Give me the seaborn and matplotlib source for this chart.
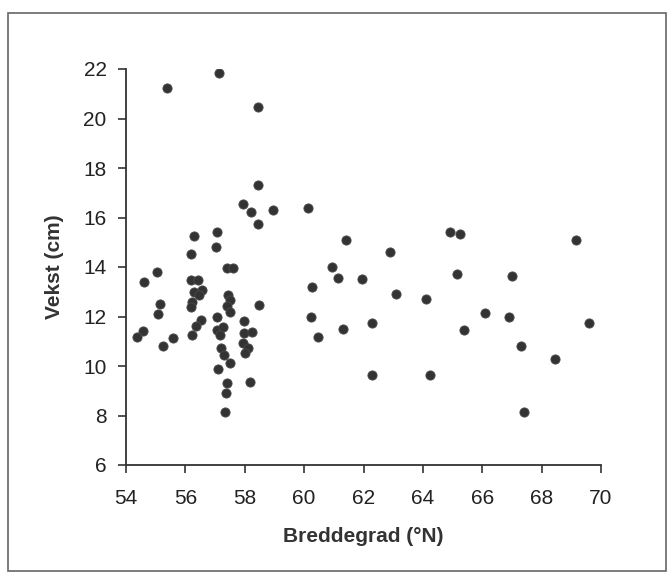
import matplotlib
matplotlib.use("Agg")
import matplotlib.pyplot as plt
import seaborn as sns
import pandas as pd
from matplotlib.patches import Rectangle

latitude = [55.37, 57.14, 58.45, 58.43, 57.93, 58.21, 58.96, 58.45, 60.12, 56.29,
            57.05, 57.03, 56.19, 55.03, 54.61, 57.39, 57.59, 56.18, 56.42, 56.29,
            56.56, 56.46, 56.21, 56.19, 57.44, 57.50, 57.39, 57.50, 58.48, 55.14,
            55.07, 57.05, 56.51, 56.36, 57.97, 57.05, 57.28, 57.16, 54.58, 54.38,
            56.21, 55.59, 57.97, 58.25, 55.24, 57.95, 58.10, 58.01, 57.20, 57.31,
            57.50, 57.09, 57.41, 58.18, 57.37, 57.34,
            61.41, 62.89, 64.91, 65.25, 60.93, 61.13, 61.94, 60.25, 65.15, 63.11,
            64.12, 60.23, 60.48, 61.32, 62.27, 62.30, 64.24,
            69.17, 66.99, 66.09, 66.91, 65.39, 69.59, 67.32, 68.44, 67.41]
growth = [21.22, 21.83, 20.48, 17.31, 16.53, 16.23, 16.30, 15.72, 16.40, 15.25,
          15.40, 14.82, 14.53, 13.81, 13.41, 13.95, 13.95, 13.47, 13.47, 13.00,
          13.07, 12.87, 12.60, 12.40, 12.87, 12.67, 12.42, 12.19, 12.46, 12.49,
          12.10, 11.97, 11.86, 11.62, 11.83, 11.45, 11.59, 11.25, 11.43, 11.18,
          11.25, 11.14, 11.35, 11.39, 10.81, 10.94, 10.74, 10.51, 10.74, 10.44,
          10.11, 9.87, 9.30, 9.34, 8.90, 8.15,
          15.09, 14.62, 15.43, 15.33, 13.99, 13.57, 13.50, 13.18, 13.72, 12.90,
          12.71, 12.00, 11.18, 11.50, 11.75, 9.64, 9.64,
          15.09, 13.64, 12.16, 12.00, 11.46, 11.75, 10.81, 10.28, 8.15]

x_ticks = [54, 56, 58, 60, 62, 64, 66, 68, 70]
y_ticks = [6, 8, 10, 12, 14, 16, 18, 20, 22]
x_label = "Breddegrad (°N)"
y_label = "Vekst (cm)"

df = pd.DataFrame({"lat": latitude, "vekst": growth})

sns.set_theme(style="white")
plt.rcParams["font.family"] = ["Liberation Sans", "DejaVu Sans"]

fig = plt.figure(figsize=(6.70, 5.79), dpi=100)
ax = fig.add_axes([126/670, 1 - 465/579, (601 - 126)/670, (465 - 69)/579])

sns.scatterplot(data=df, x="lat", y="vekst", ax=ax, color="#333333",
                s=44, edgecolor="#4a4a4a", linewidth=0.6, zorder=3, legend=False)

ax.set_xlim(54, 70)
ax.set_ylim(6, 22)
ax.set_xticks(x_ticks)
ax.set_yticks(y_ticks)
ax.set_xticklabels([str(v) for v in x_ticks])
ax.set_yticklabels([str(v) for v in y_ticks])
for sp in ["top", "right"]:
    ax.spines[sp].set_visible(False)
for sp in ["left", "bottom"]:
    ax.spines[sp].set_color("#333333")
    ax.spines[sp].set_linewidth(1.3)
ax.tick_params(axis="both", which="major", direction="out", length=6, width=1.2,
               color="#333333", labelsize=15, labelcolor="#222222",
               left=True, bottom=True)
ax.tick_params(axis="x", pad=11)
ax.tick_params(axis="y", pad=8)
ax.set_xlabel(x_label, fontsize=15, fontweight="bold", color="#333333", labelpad=14)
ax.set_ylabel(y_label, fontsize=15, fontweight="bold", color="#333333", labelpad=14)

fig.patches.append(Rectangle((8/670, 1 - 571/579), (666 - 8)/670, (571 - 13)/579,
                             transform=fig.transFigure, fill=False,
                             edgecolor="#666666", linewidth=1.2))

fig.savefig("out.png", dpi=100)
